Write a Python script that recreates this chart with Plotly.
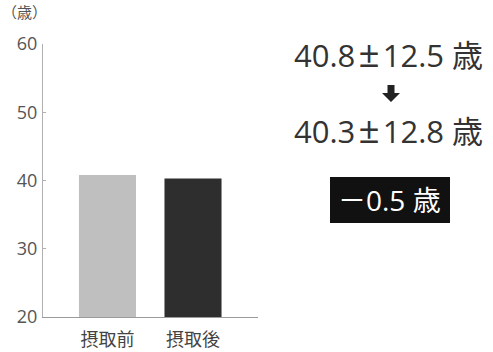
import plotly.graph_objects as go

# Mean age before / after intake
categories = ["摂取前", "摂取後"]
mean_age = [40.8, 40.3]
sd_age = [12.5, 12.8]
bar_colors = ["#bfbfbf", "#2e2e2e"]
y_ticks = [20, 30, 40, 50, 60]

W, H = 493, 352
L, R, T, B = 43, 235, 44, 35
PW, PH = W - L - R, H - T - B

def px(x):
    return (x - L) / PW

def py(y):
    return (H - B - y) / PH

FONT = "Open Sans, Noto Sans CJK JP, sans-serif"
diff = round(mean_age[1] - mean_age[0], 1)

fig = go.Figure(go.Bar(
    x=[0, 1], y=mean_age, width=0.667,
    marker=dict(color=bar_colors, line=dict(width=0)),
    hoverinfo="skip",
))

fig.update_layout(
    width=W, height=H, margin=dict(l=L, r=R, t=T, b=B, autoexpand=False),
    paper_bgcolor="white", plot_bgcolor="white",
    showlegend=False, font=dict(family=FONT, color="#555555"),
    xaxis=dict(range=[-0.754, 1.76], tickvals=[0, 1], ticktext=categories,
               showgrid=False, zeroline=False, showline=True,
               linecolor="#9a9a9a", linewidth=1, ticks="", automargin=False,
               tickfont=dict(size=18, color="#444444"), ticklabelstandoff=6),
    yaxis=dict(range=[20, 60], tickvals=y_ticks, showgrid=False,
               zeroline=False, showline=True, linecolor="#b0b0b0",
               linewidth=1, ticks="inside", ticklen=3, tickcolor="#b0b0b0",
               automargin=False,
               tickfont=dict(size=18, color="#555555"), ticklabelstandoff=1),
)

def label(text, x, y, size, color):
    return dict(text=text, x=px(x), y=py(y), xref="paper", yref="paper",
                xanchor="center", yanchor="middle", showarrow=False,
                font=dict(size=size, color=color))

PM = "\u200a<span style='font-size:37px'>±</span>\u200a"
line1 = f"{mean_age[0]}{PM}{sd_age[0]} 歳"
line2 = f"{mean_age[1]}{PM}{sd_age[1]} 歳"
sign = "－" if diff < 0 else "＋"
fig.update_layout(annotations=[
    label("（歳）", 24, 12, 15, "#555555"),
    label(line1, 388, 52, 31, "#333333"),
    label(line2, 388, 128, 31, "#333333"),
    label(f"{sign}{abs(diff)} 歳", 389, 200, 28, "white"),
])

# down arrow between the two values
ax = [387.5, 394.5, 394.5, 400, 391, 382, 387.5]
ay = [85, 85, 93, 93, 102, 93, 93]
path = "M " + " L ".join(f"{px(a)},{py(b)}" for a, b in zip(ax, ay)) + " Z"
fig.add_shape(type="path", path=path, xref="paper", yref="paper",
              fillcolor="#222222", line=dict(width=0))
# black box behind the difference
fig.add_shape(type="rect", xref="paper", yref="paper",
              x0=px(330), x1=px(450), y0=py(223), y1=py(177),
              fillcolor="#111111", line=dict(width=0), layer="below")

fig.write_html("out.html")
